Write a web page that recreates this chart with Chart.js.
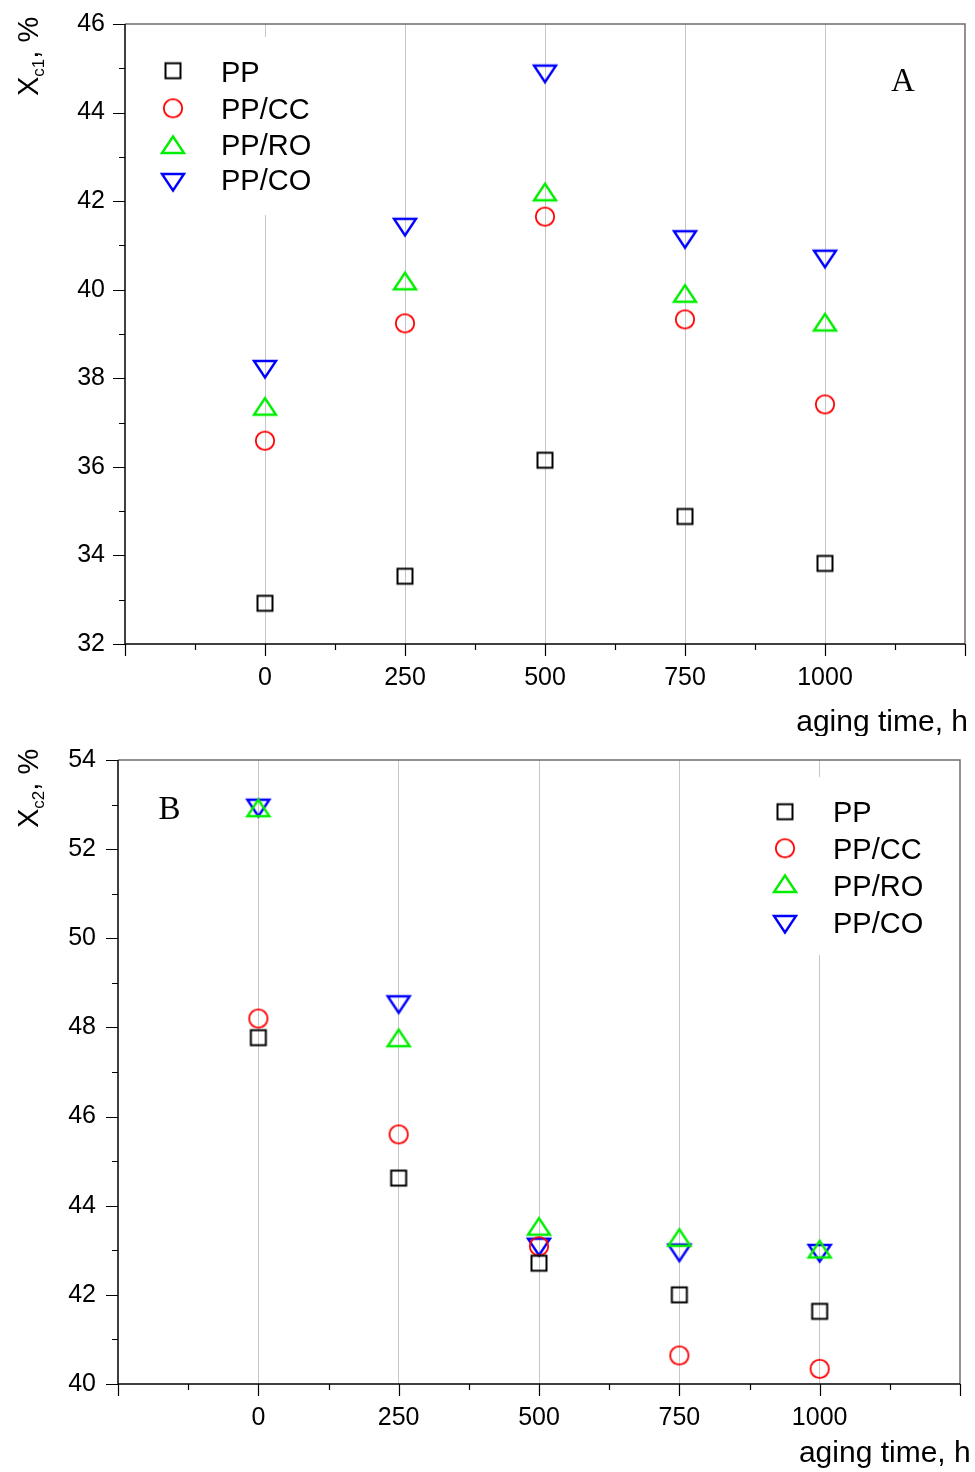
<!DOCTYPE html>
<html>
<head>
<meta charset="utf-8">
<script src="https://cdn.jsdelivr.net/npm/chart.js@4.4.0/dist/chart.umd.min.js"></script>
<style>
    html, body { margin: 0; padding: 0; background: #fff; }
    #wrap { position: relative; width: 975px; height: 1472px; }
    canvas { position: absolute; left: 0; }
</style>
</head>
<body>
<div id="wrap">
    <canvas id="chartA" width="975" height="736" style="top:0px"></canvas>
    <canvas id="chartB" width="975" height="736" style="top:736px"></canvas>
</div>
<script>
// data
const agingTime = [0, 250, 500, 750, 1000];
const seriesNames = ['PP', 'PP/CC', 'PP/RO', 'PP/CO'];

// panel A : Xc1, %
const ppA   = [32.92, 33.53, 36.15, 34.88, 33.82];
const ppccA = [36.59, 39.24, 41.65, 39.33, 37.41];
const pproA = [37.36, 40.19, 42.20, 39.91, 39.26];
const ppcoA = [38.21, 41.42, 44.88, 41.14, 40.70];

// panel B : Xc2, %
const ppB   = [47.77, 44.62, 42.71, 42.00, 41.63];
const ppccB = [48.20, 45.60, 43.09, 40.64, 40.34];
const pproB = [52.92, 47.76, 43.53, 43.28, 43.02];
const ppcoB = [52.93, 48.52, 43.08, 42.95, 42.94];

// tick labels
const xTicks = [0, 250, 500, 750, 1000];
const yTicksA = [32, 34, 36, 38, 40, 42, 44, 46];
const yTicksB = [40, 42, 44, 46, 48, 50, 52, 54];

const FONT = '"Liberation Sans", Arial, sans-serif';

// hollow Origin-like symbols, centred on their box
function makeMarker(shape, color)
{
    const c = document.createElement('canvas');
    c.width = 32;
    c.height = 32;
    const g = c.getContext('2d');
    g.strokeStyle = color;
    g.lineJoin = 'miter';
    g.beginPath();
    if (shape === 'square') {
        g.lineWidth = 2;
        g.rect(8.5, 8.5, 15, 15);
    } else if (shape === 'circle') {
        g.lineWidth = 1.8;
        g.arc(16, 16, 9.2, 0, Math.PI * 2);
    } else if (shape === 'up') {
        g.lineWidth = 2.4;
        g.moveTo(16, 7.5);
        g.lineTo(27, 24);
        g.lineTo(5, 24);
        g.closePath();
    } else {
        g.lineWidth = 2.4;
        g.moveTo(16, 24.5);
        g.lineTo(27, 8);
        g.lineTo(5, 8);
        g.closePath();
    }
    g.stroke();
    return c;
}

const markers = [
    makeMarker('square', '#000000'),
    makeMarker('circle', '#ff0000'),
    makeMarker('up', '#00ee00'),
    makeMarker('down', '#0000ff')
];

// frame, tick marks, legend and texts
function decor(cfg)
{
    return {
        id: 'decor' + cfg.letter,
        afterDraw(chart) {
            const ctx = chart.ctx;
            const xs = chart.scales.x;
            const ys = chart.scales.y;
            const { left, right, top, bottom } = chart.chartArea;
            ctx.save();

            // top and right frame
            ctx.strokeStyle = '#6e6e6e';
            ctx.lineWidth = 1.5;
            ctx.beginPath();
            ctx.moveTo(left, top);
            ctx.lineTo(right, top);
            ctx.lineTo(right, bottom);
            ctx.stroke();

            // axes
            ctx.strokeStyle = '#000';
            ctx.lineWidth = 1.5;
            ctx.beginPath();
            ctx.moveTo(left, top);
            ctx.lineTo(left, bottom);
            ctx.lineTo(right, bottom);
            ctx.stroke();

            // tick marks
            ctx.lineWidth = 1.2;
            ctx.beginPath();
            for (let v = cfg.yMin; v <= cfg.yMax; v++) {
                const y = Math.round(ys.getPixelForValue(v)) + 0.5;
                const len = (v % 2 === 0) ? 12 : 6;
                ctx.moveTo(left - len, y);
                ctx.lineTo(left, y);
            }
            for (let v = -250; v <= 1250; v += 125) {
                const x = Math.round(xs.getPixelForValue(v)) + 0.5;
                const len = (v % 250 === 0) ? 12 : 6;
                ctx.moveTo(x, bottom);
                ctx.lineTo(x, bottom + len);
            }
            ctx.stroke();

            // legend
            const lg = cfg.legend;
            ctx.fillStyle = '#fff';
            ctx.fillRect(lg.box[0], lg.box[1], lg.box[2] - lg.box[0], lg.box[3] - lg.box[1]);
            ctx.fillStyle = '#000';
            ctx.font = '29px ' + FONT;
            ctx.textAlign = 'left';
            ctx.textBaseline = 'alphabetic';
            seriesNames.forEach((name, i) => {
                ctx.drawImage(markers[i], lg.mx - 16, lg.rows[i] - 16);
                ctx.fillText(name, lg.tx, lg.base[i]);
            });

            // panel letter
            ctx.font = '33px "Liberation Serif", "Times New Roman", serif';
            ctx.textAlign = 'center';
            ctx.fillText(cfg.letter, cfg.letterPos[0], cfg.letterPos[1]);

            // x axis title
            ctx.font = '30px ' + FONT;
            ctx.textAlign = 'right';
            ctx.fillText('aging time, h', cfg.xTitle[0], cfg.xTitle[1]);

            // y axis title with subscript
            ctx.translate(cfg.yTitle[0], cfg.yTitle[1]);
            ctx.rotate(-Math.PI / 2);
            ctx.textAlign = 'left';
            ctx.font = '29px ' + FONT;
            ctx.fillText('X', 0, 0);
            let w = ctx.measureText('X').width;
            ctx.font = '17px ' + FONT;
            ctx.fillText(cfg.sub, w, 6);
            w += ctx.measureText(cfg.sub).width;
            ctx.font = '29px ' + FONT;
            ctx.fillText(', %', w, 0);

            ctx.restore();
        }
    };
}

function buildChart(id, cfg)
{
    return new Chart(document.getElementById(id), {
        type: 'scatter',
        data: {
            datasets: seriesNames.map((name, i) => ({
                label: name,
                data: agingTime.map((t, k) => ({ x: t, y: cfg.series[i][k] })),
                pointStyle: markers[i],
                pointRadius: 12,
                pointHoverRadius: 12
            }))
        },
        options: {
            responsive: false,
            animation: false,
            events: [],
            layout: {
                autoPadding: false,
                padding: { left: 0, top: cfg.area.top, right: cfg.area.right, bottom: 0 }
            },
            plugins: {
                legend: { display: false },
                tooltip: { enabled: false }
            },
            scales: {
                x: {
                    type: 'linear',
                    min: -250,
                    max: 1250,
                    afterFit: s => {
                        s.height = cfg.area.xHeight;
                        s.paddingLeft = 0;
                        s.paddingRight = 0;
                    },
                    border: { display: false },
                    grid: {
                        drawTicks: false,
                        lineWidth: 1,
                        color: c => (c.tick && xTicks.includes(c.tick.value)) ? '#c6c6c6' : 'rgba(0,0,0,0)'
                    },
                    ticks: {
                        stepSize: 125,
                        autoSkip: false,
                        maxRotation: 0,
                        padding: 19,
                        color: '#000',
                        font: { family: FONT, size: 25 },
                        callback: v => xTicks.includes(v) ? String(v) : ''
                    }
                },
                y: {
                    min: cfg.yMin,
                    max: cfg.yMax,
                    afterFit: s => {
                        s.width = cfg.area.yWidth;
                        s.paddingTop = 0;
                        s.paddingBottom = 0;
                    },
                    border: { display: false },
                    grid: { display: false, drawTicks: false },
                    ticks: {
                        stepSize: 1,
                        autoSkip: false,
                        padding: cfg.yPad,
                        color: '#000',
                        font: { family: FONT, size: 25 },
                        callback: v => cfg.yTicks.includes(v) ? String(v) : ''
                    }
                }
            }
        },
        plugins: [decor(cfg)]
    });
}

// Panel A
const chartA = buildChart('chartA', {
    letter: 'A',
    series: [ppA, ppccA, pproA, ppcoA],
    yMin: 32,
    yMax: 46,
    yTicks: yTicksA,
    yPad: 20,
    sub: 'c1',
    area: { top: 24, right: 10, xHeight: 92, yWidth: 125 },
    legend: {
        box: [135, 37, 395, 215],
        mx: 173,
        tx: 221,
        rows: [70.7, 108.3, 145, 182],
        base: [82, 119, 155.3, 190.3]
    },
    letterPos: [903, 90.7],
    xTitle: [968, 731],
    yTitle: [38, 96]
});

// Panel B
const chartB = buildChart('chartB', {
    letter: 'B',
    series: [ppB, ppccB, pproB, ppcoB],
    yMin: 40,
    yMax: 54,
    yTicks: yTicksB,
    yPad: 22,
    sub: 'c2',
    area: { top: 24, right: 15, xHeight: 88, yWidth: 118 },
    legend: {
        box: [695, 41, 950, 219],
        mx: 785,
        tx: 833,
        rows: [75.7, 112.3, 148, 188],
        base: [85.7, 123, 160, 196.7]
    },
    letterPos: [169.5, 83],
    xTitle: [970.7, 726.3],
    yTitle: [38, 92]
});
</script>
</body>
</html>
